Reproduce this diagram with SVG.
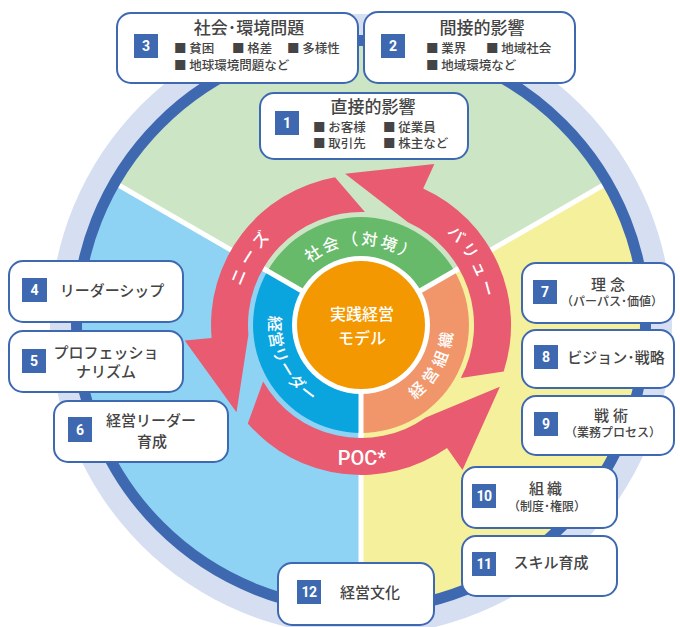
<svg xmlns="http://www.w3.org/2000/svg" width="680" height="627" viewBox="0 0 680 627">
<defs>
<style>
.box{fill:#fff;stroke:#3e69b1;stroke-width:2}
.num{fill:#3e69b1}
.nt{font-family:Roboto,"Liberation Sans",sans-serif;font-weight:700;font-size:14px;fill:#fff;text-anchor:middle}
.t{font-family:"Noto Sans CJK JP","Noto Sans",sans-serif;fill:#444;font-weight:500}
.ti{font-size:17px;text-anchor:middle}
.li{font-size:12.5px}
.m{font-size:15px;text-anchor:middle}
.s{font-size:12px;text-anchor:middle}
.w{font-family:"Noto Sans CJK JP","Noto Sans",sans-serif;fill:#fff;font-weight:500;font-size:16px}
.sep{stroke:#fff;stroke-width:5;stroke-linecap:butt}
.arrow{fill:#e85b71}
</style>
<path id="pNeeds" d="M238.2 353.3 A126 126 0 0 1 332.7 202.2"/>
<path id="pValue" d="M395.7 203.9 A126 126 0 0 1 482.1 359.7"/>
<path id="pSoc" d="M285.8 297.6 A80 80 0 0 1 436.2 297.6"/>
<path id="pLead" d="M277.0 287.6 A92 92 0 0 0 338.7 414.3"/>
<path id="pOrg" d="M381.7 414.6 A92 92 0 0 0 446.9 292.0"/>
</defs>
<rect width="680" height="627" fill="#fff"/>
<g id="background">
<circle cx="361" cy="325" r="311" fill="#d5dff1"/>
<path d="M361 325 L114.2 182.5 A285 285 0 0 1 607.8 182.5 Z" fill="#cbe5c5"/>
<path d="M361 325 L607.8 182.5 A285 285 0 0 1 361 610 Z" fill="#f5f09b"/>
<path d="M361 325 L361 610 A285 285 0 0 1 114.2 182.5 Z" fill="#8fd3f4"/>
<line class="sep" x1="361" y1="325" x2="118.5" y2="185"/>
<line class="sep" x1="361" y1="325" x2="603.5" y2="185"/>
<line class="sep" x1="361" y1="325" x2="361" y2="605"/>
<circle cx="361" cy="325" r="284.5" fill="none" stroke="#3e69b1" stroke-width="11"/>
</g>
<g id="connectors">
<path class="arrow" d="M364.9 212.1 L335.0 177.3 A150 150 0 0 0 211.6 338.1 L184.7 340.4 L236.5 412.2 L248.4 334.8 A113 113 0 0 1 364.9 212.1 Z"/>
<path class="arrow" d="M263.1 381.5 L247.8 423.4 A150 150 0 0 0 447.0 447.9 L462.5 470.0 L499.9 386.8 L425.8 417.6 A113 113 0 0 1 263.1 381.5 Z"/>
<path class="arrow" d="M460.8 378.1 L503.7 371.4 A150 150 0 0 0 423.2 188.5 L434.4 163.9 L345.1 173.8 L407.9 222.2 A113 113 0 0 1 460.8 378.1 Z"/>
<text class="w" letter-spacing="5"><textPath href="#pNeeds" startOffset="50%" text-anchor="middle">ニーズ</textPath></text>
<text class="w" font-size="15" letter-spacing="4"><textPath href="#pValue" startOffset="50%" text-anchor="middle">バリュー</textPath></text>
<text x="362" y="465" font-family="Roboto,'Liberation Sans',sans-serif" font-size="20" font-weight="500" fill="#fff" text-anchor="middle">POC*</text>
</g>
<g id="ring">
<path d="M361 325 L267.5 271 A108 108 0 0 1 454.5 271 Z" fill="#67ba69"/>
<path d="M361 325 L454.5 271 A108 108 0 0 1 361 433 Z" fill="#f0966a"/>
<path d="M361 325 L361 433 A108 108 0 0 1 267.5 271 Z" fill="#0aa4df"/>
<line class="sep" x1="361" y1="325" x2="264" y2="269"/>
<line class="sep" x1="361" y1="325" x2="458" y2="269"/>
<line class="sep" x1="361" y1="325" x2="361" y2="437"/>
<text class="w" letter-spacing="2.5"><textPath href="#pSoc" startOffset="50%" text-anchor="middle">社会（対境）</textPath></text>
<text class="w" letter-spacing="1"><textPath href="#pLead" startOffset="50%" text-anchor="middle">経営リーダー</textPath></text>
<text class="w" letter-spacing="5"><textPath href="#pOrg" startOffset="50%" text-anchor="middle">経営組織</textPath></text>
</g>
<g id="center">
<circle cx="361" cy="325" r="69" fill="#fff"/>
<circle cx="361" cy="325" r="64" fill="#f39800"/>
<text class="w" x="362" y="320" font-size="21" text-anchor="middle">実践経営</text>
<text class="w" x="362" y="344" font-size="21" text-anchor="middle">モデル</text>
</g>
<g id="node-3">
<rect class="box" x="117" y="13" width="241" height="70" rx="14"/>
<rect class="num" x="134" y="34" width="24" height="24"/>
<text class="nt" x="146" y="51">3</text>
<text class="t ti" x="249" y="34">社会･環境問題</text>
<text class="t li"><tspan x="174" y="52.5">■ 貧困</tspan><tspan x="232" y="52.5">■ 格差</tspan><tspan x="287" y="52.5">■ 多様性</tspan><tspan x="174" y="69.5">■ 地球環境問題など</tspan></text>
</g>
<g id="node-2">
<rect class="box" x="364" y="12" width="211" height="71" rx="14"/>
<rect class="num" x="381" y="34" width="24" height="24"/>
<text class="nt" x="393" y="51">2</text>
<text class="t ti" x="482" y="34">間接的影響</text>
<text class="t li"><tspan x="426" y="52.5">■ 業界</tspan><tspan x="486" y="52.5">■ 地域社会</tspan><tspan x="426" y="69.5">■ 地域環境など</tspan></text>
</g>
<g id="node-1">
<rect class="box" x="260" y="93" width="208" height="66" rx="14"/>
<rect class="num" x="275" y="111" width="24" height="24"/>
<text class="nt" x="287" y="128">1</text>
<text class="t ti" x="373" y="113">直接的影響</text>
<text class="t li"><tspan x="313" y="131.5">■ お客様</tspan><tspan x="383" y="131.5">■ 従業員</tspan><tspan x="313" y="147.5">■ 取引先</tspan><tspan x="383" y="147.5">■ 株主など</tspan></text>
</g>
<g id="node-4">
<rect class="box" x="9" y="261" width="174" height="61" rx="14"/>
<rect class="num" x="22" y="278" width="25" height="24"/>
<text class="nt" x="34.5" y="295">4</text>
<text class="t m" x="112" y="295.5">リーダーシップ</text>
</g>
<g id="node-5">
<rect class="box" x="9" y="331" width="174" height="61" rx="14"/>
<rect class="num" x="22" y="349" width="24" height="24"/>
<text class="nt" x="34" y="366">5</text>
<text class="t m" font-size="14.5"><tspan x="106" y="358">プロフェッショ</tspan><tspan x="106" y="377">ナリズム</tspan></text>
</g>
<g id="node-6">
<rect class="box" x="54" y="401" width="174" height="61" rx="14"/>
<rect class="num" x="68" y="417" width="24" height="25"/>
<text class="nt" x="80" y="434.5">6</text>
<text class="t m"><tspan x="151" y="426">経営リーダー</tspan><tspan x="152" y="447">育成</tspan></text>
</g>
<g id="node-7">
<rect class="box" x="522" y="263" width="152" height="60" rx="14"/>
<rect class="num" x="533" y="280" width="24" height="24"/>
<text class="nt" x="545" y="297">7</text>
<text class="t m" x="610" y="289.5" letter-spacing="4">理念</text>
<text class="t s" x="612" y="306">（パーパス･価値）</text>
</g>
<g id="node-8">
<rect class="box" x="522" y="330" width="152" height="58" rx="14"/>
<rect class="num" x="534" y="345" width="24" height="24"/>
<text class="nt" x="546" y="362">8</text>
<text class="t m" x="616" y="362.5">ビジョン･戦略</text>
</g>
<g id="node-9">
<rect class="box" x="522" y="396" width="152" height="59" rx="14"/>
<rect class="num" x="534" y="412" width="24" height="24"/>
<text class="nt" x="546" y="429">9</text>
<text class="t m" x="613" y="420.5" letter-spacing="4">戦術</text>
<text class="t s" x="613" y="437">（業務プロセス）</text>
</g>
<g id="node-10">
<rect class="box" x="462" y="467" width="155" height="61" rx="14"/>
<rect class="num" x="472" y="484" width="24" height="24"/>
<text class="nt" x="484" y="501" font-size="13" letter-spacing="-0.5">10</text>
<text class="t m" x="547" y="493.5" letter-spacing="3">組織</text>
<text class="t s" x="547" y="511">（制度･権限）</text>
</g>
<g id="node-11">
<rect class="box" x="462" y="536" width="155" height="60" rx="14"/>
<rect class="num" x="472" y="552" width="24" height="24"/>
<text class="nt" x="484" y="569" font-size="13" letter-spacing="-0.5">11</text>
<text class="t m" x="551" y="567.5">スキル育成</text>
</g>
<g id="node-12">
<rect class="box" x="278" y="563" width="156" height="62" rx="14"/>
<rect class="num" x="297" y="580" width="24" height="24"/>
<text class="nt" x="309" y="597" font-size="13" letter-spacing="-0.5">12</text>
<text class="t m" x="370" y="597.5" font-size="16">経営文化</text>
</g>
</svg>
